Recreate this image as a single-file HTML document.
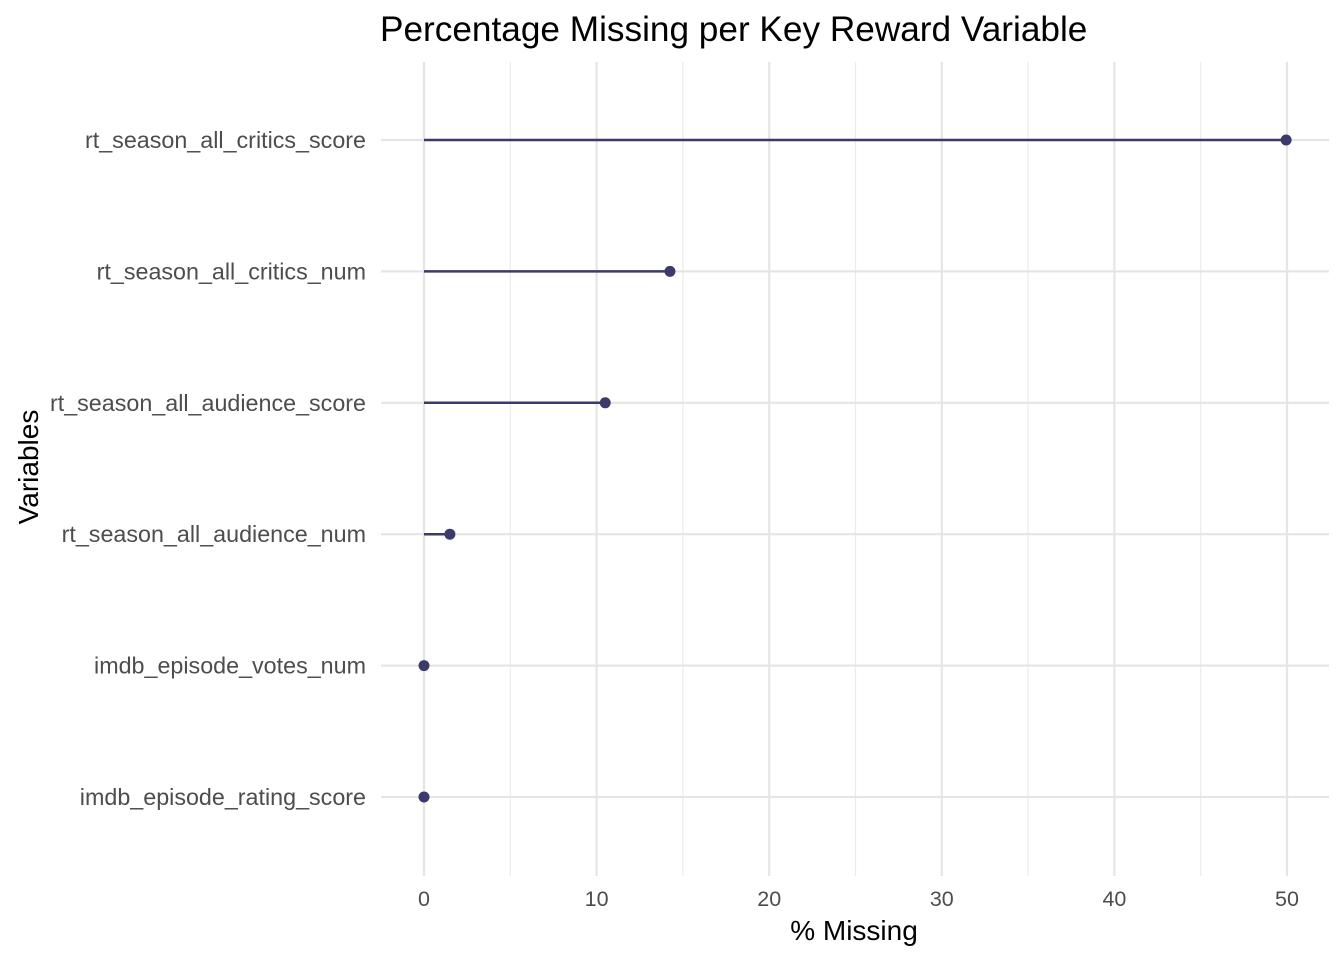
<!DOCTYPE html>
<html><head><meta charset="utf-8"><style>
body{margin:0;background:#fff;}
svg{display:block;font-family:"Liberation Sans",sans-serif;}
</style></head><body>
<svg id="chart" width="1344" height="960">
<text x="380" y="41" font-size="35.2" fill="#000">Percentage Missing per Key Reward Variable</text>
<g id="grid"></g><g id="marks"></g><g id="labels"></g>
<text x="854" y="940" font-size="28" text-anchor="middle" fill="#000">% Missing</text>
<text transform="translate(38,467) rotate(-90)" font-size="28" text-anchor="middle" fill="#000">Variables</text>
</svg>
<script>
const categories=["rt_season_all_critics_score","rt_season_all_critics_num","rt_season_all_audience_score","rt_season_all_audience_num","imdb_episode_votes_num","imdb_episode_rating_score"];
const values=[49.95,14.25,10.5,1.5,0,0];
const xTicks=[0,10,20,30,40,50];
const xMinor=[5,15,25,35,45];
const NS="http://www.w3.org/2000/svg";
const x=v=>424+v*(1287-424)/50;
const y=i=>140+i*131.4;
function mk(tag,attrs,parent,text){const e=document.createElementNS(NS,tag);for(const k in attrs)e.setAttribute(k,attrs[k]);if(text!==undefined)e.textContent=text;document.getElementById(parent).appendChild(e);return e;}
xMinor.forEach(v=>{const e=mk('line',{x1:x(v),x2:x(v),y1:62,y2:876,stroke:'#ebebeb','stroke-width':1.2},'grid');

});
xTicks.forEach(v=>{const e=mk('line',{x1:x(v),x2:x(v),y1:62,y2:876,stroke:'#e5e5e5','stroke-width':2.2},'grid');


const t=mk('text',{x:x(v),y:906,'font-size':21.5,'text-anchor':'middle',fill:'#4d4d4d'},'labels',String(v));

});
categories.forEach((c,i)=>{const g=mk('line',{x1:381,x2:1329,y1:y(i),y2:y(i),stroke:'#e5e5e5','stroke-width':2.2},'grid');


const t=mk('text',{x:366,y:y(i)+8,'font-size':23.3,'text-anchor':'end',fill:'#4d4d4d'},'labels',c);


const l=mk('line',{x1:x(0),x2:x(values[i]),y1:y(i),y2:y(i),stroke:'#3b3a6b','stroke-width':2.5},'marks');


const d=mk('circle',{cx:x(values[i]),cy:y(i),r:5.5,fill:'#3b3a6b'},'marks');

});
</script>
</body></html>
